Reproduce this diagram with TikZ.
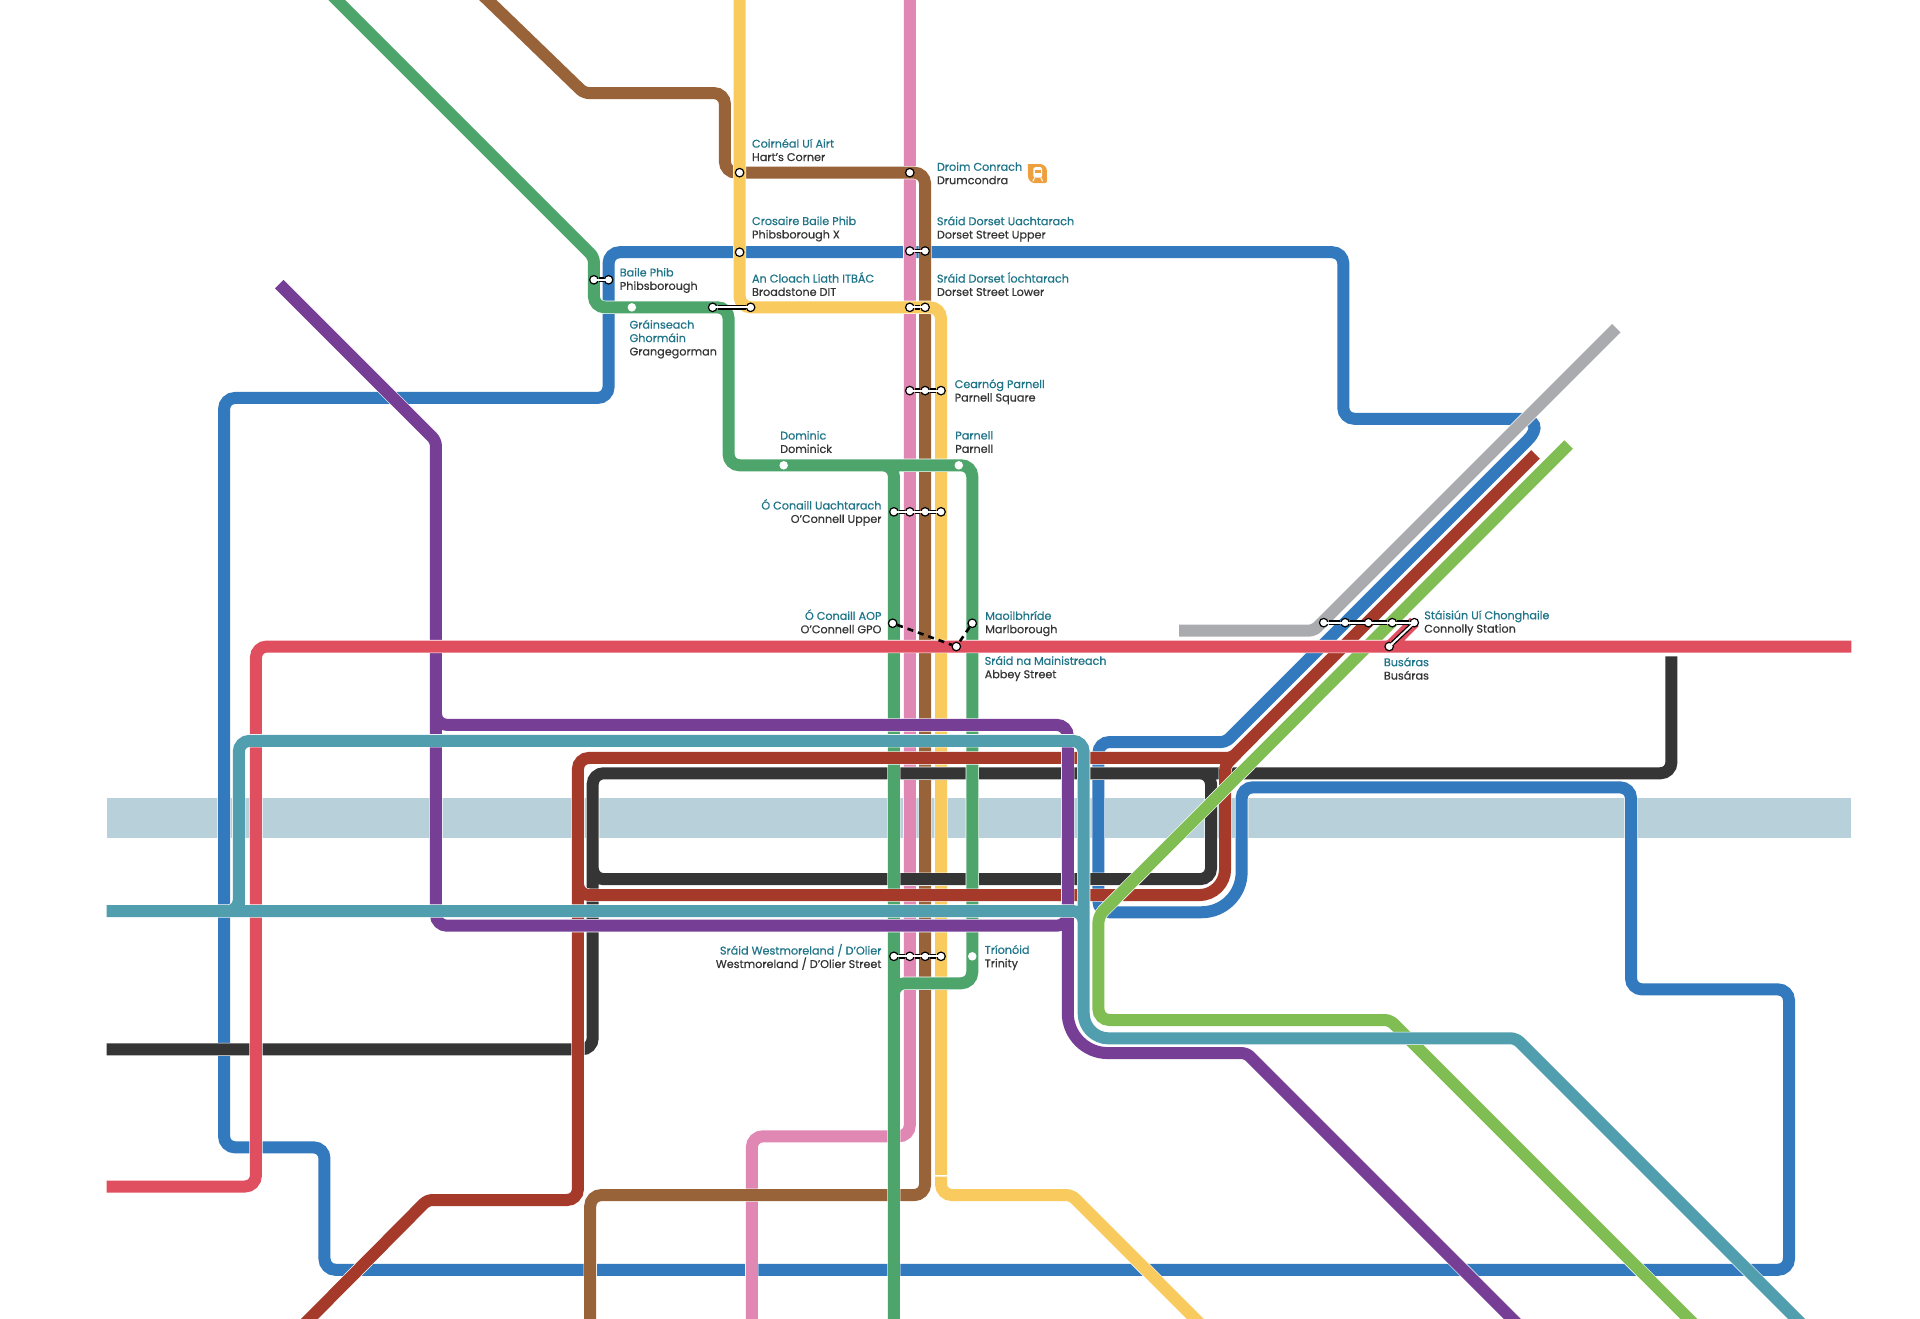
\documentclass[tikz,border=0pt]{standalone}
\usepackage{fontspec}
\setmainfont{Poppins}[FakeBold=0.6]
\usepackage{xcolor}
\definecolor{riverblue}{HTML}{B7D0D9}
\definecolor{lineblue}{HTML}{3279BD}
\definecolor{linegray}{HTML}{A9ABAE}
\definecolor{linepink}{HTML}{E087B3}
\definecolor{linebrown}{HTML}{996339}
\definecolor{lineyellow}{HTML}{F9CB5F}
\definecolor{linedark}{HTML}{353535}
\definecolor{linegreen}{HTML}{4EA56C}
\definecolor{linecrimson}{HTML}{A53A2B}
\definecolor{linelime}{HTML}{80BD53}
\definecolor{linepurple}{HTML}{763E95}
\definecolor{linered}{HTML}{E04F5F}
\definecolor{lineteal}{HTML}{519FAE}
\definecolor{irishteal}{HTML}{1E7488}
\definecolor{iconorange}{HTML}{EE9F3E}
\tikzset{
  tube/.style={white,line width=0.6pt,double=#1,double distance=12pt,rounded corners=11pt},
  halt/.style={circle,fill=white,inner sep=0pt,minimum size=8.5pt},
  stop/.style={circle,draw=black,line width=1.2pt,fill=white,inner sep=0pt,minimum size=8.5pt},
  linkout/.style={black,line width=4.6pt},
  linkin/.style={white,line width=2pt},
  walk/.style={black,line width=2.6pt,dash pattern=on 6pt off 5pt},
  lbl/.style={text=linedark,font=\fontsize{11.2pt}{13.4pt}\selectfont,inner sep=0pt},
  lblw/.style={lbl,anchor=west,align=left},
  lble/.style={lbl,anchor=east,align=right}
}
\newcommand{\ga}[1]{\textcolor{irishteal}{#1}}
\begin{document}
\begin{tikzpicture}[x=1.22449pt,y=-1.22449pt]
\useasboundingbox (0,0) rectangle (1568,1076.4);
% river
\fill [riverblue] (87,652) rectangle (1512,684.5);

% blue loop
\draw [tube=lineblue] (600,206) -- (497,206) -- (497,325) -- (183,325) -- (183,937) -- (265,937) -- (265,1037)
  -- (1461,1037) -- (1461,808) -- (1332,808) -- (1332,643) -- (1014,643) [rounded corners=40pt] -- (1014,745)
  [rounded corners=11pt] -- (897,745) -- (897,606) [rounded corners=5pt] -- (1001,606) [rounded corners=30pt] -- (1265,342)
  [rounded corners=11pt] -- (1097,342) -- (1097,206) -- cycle;
% gray line
\draw [tube=linegray,rounded corners=5pt] (963,515) -- (1073,515) -- (1320,268);
% pink line
\draw [tube=linepink] (743,-10) -- (743,928) -- (614,928) -- (614,1090);
% brown line
\draw [tube=linebrown] (388,-10) [rounded corners=5pt] -- (477,76) [rounded corners=11pt] -- (592,76) -- (592,141)
  -- (755.5,141) -- (755.5,976) -- (482,976) -- (482,1090);
% yellow line
\draw [tube=lineyellow] (604,-10) -- (604,251) -- (768.5,251) -- (768.5,959.5);
\draw [tube=lineyellow] (768.5,961) -- (768.5,976) [rounded corners=5pt] -- (875,976) -- (985,1086);
% dark line
\draw [tube=linedark] (1365,536) -- (1365,631.5) -- (484,631.5) -- (484,857) -- (87,857)
  (960,631.5) -- (989,631.5) -- (989,718) -- (484,718) -- (484,700);
% green line
\draw [tube=linegreen] (265,-10) [rounded corners=5pt] -- (485,210) [rounded corners=11pt] -- (485,251) -- (595,251) -- (595,380)
  -- (730,380) -- (730,1090)
  (700,380) -- (794,380) -- (794,803) -- (730,803) -- (730,830);
% crimson line
\draw [tube=linecrimson] (240,1090) [rounded corners=5pt] -- (349,980) [rounded corners=11pt] -- (472,980) -- (472,619)
  [rounded corners=5pt] -- (1006,619) -- (1254,371)
  (1035,590) -- (1000.5,625) [rounded corners=26pt] -- (1000.5,731) [rounded corners=11pt] -- (472,731) -- (472,700);
% lime line
\draw [tube=linelime] (1281,363) [rounded corners=7pt] -- (897,748) [rounded corners=11pt] -- (897,833)
  [rounded corners=5pt] -- (1135,833) -- (1390,1088);
% purple line
\draw [tube=linepurple] (228,232) [rounded corners=5pt] -- (356,360) [rounded corners=11pt] -- (356,756) -- (872,756) -- (872,730)
  (356,570) -- (356,592) -- (872,592) [rounded corners=40pt] -- (872,860) [rounded corners=5pt] -- (1018,860) -- (1248,1090);
% red line
\draw [tube=linered] (1512,528) -- (209,528) -- (209,969) -- (87,969)
  (1120,528) [rounded corners=3pt] -- (1135,528) -- (1155,508);
% teal line
\draw [tube=lineteal] (87,744) -- (885,744) -- (885,770)
  (195,700) -- (195,744) -- (175,744)
  (195,744) -- (195,605) -- (885,605) [rounded corners=25pt] -- (885,848) [rounded corners=5pt] -- (1238,848) -- (1480,1090);

% plain stations
\node [halt] (grange) at (516,251) {};
\node [halt] (dominick) at (640,380) {};
\node [halt] (parnell) at (783,380) {};
\node [halt] (trinity) at (794,781) {};
% ringed stations
\node [stop] (harts) at (604,141) {};
\node [stop] (drumcondra) at (743,141) {};
\node [stop] (phibsx) at (604,206) {};
\node [stop] (gpo) at (729,509) {};
\node [stop] (marlborough) at (794,509) {};
\node [stop] (abbey) at (781,528) {};
\draw [walk] (gpo) -- (abbey);
\draw [walk] (marlborough) -- (abbey);
% linked stations
\node [stop] (phibsa) at (485,228.5) {};
\node [stop] (phibsb) at (497,228.5) {};
\node [stop] (broada) at (582,251) {};
\node [stop] (broadb) at (613,251) {};
\node [stop] (dorsetua) at (743,205) {};
\node [stop] (dorsetub) at (755.5,205) {};
\node [stop] (dorsetla) at (743,251) {};
\node [stop] (dorsetlb) at (755.5,251) {};
\node [stop] (squarea) at (743,319) {};
\node [stop] (squareb) at (755.5,319) {};
\node [stop] (squarec) at (768.5,319) {};
\node [stop] (uppera) at (730,418) {};
\node [stop] (upperb) at (743,418) {};
\node [stop] (upperc) at (755.5,418) {};
\node [stop] (upperd) at (768.5,418) {};
\node [stop] (westa) at (730,781) {};
\node [stop] (westb) at (743,781) {};
\node [stop] (westc) at (755.5,781) {};
\node [stop] (westd) at (768.5,781) {};
\node [stop] (conna) at (1081,508.5) {};
\node [stop] (connb) at (1098.5,508.5) {};
\node [stop] (connc) at (1117.5,508.5) {};
\node [stop] (connd) at (1137,508.5) {};
\node [stop] (conne) at (1155,508.5) {};
\node [stop] (busaras) at (1134.5,528) {};
\foreach \from/\to in {phibsa/phibsb,broada/broadb,dorsetua/dorsetub,dorsetla/dorsetlb,squarea/squareb,squareb/squarec,
  uppera/upperb,upperb/upperc,upperc/upperd,westa/westb,westb/westc,westc/westd,
  conna/connb,connb/connc,connc/connd,connd/conne,conne/busaras}
{
  \draw [linkout] (\from) -- (\to);
  \draw [linkin] (\from.center) -- (\to.center);
}

% labels
\node [lblw] (hartslbl) at (614,122.5) {\ga{Coirnéal Uí Airt}\\Hart’s Corner};
\node [lblw] (drumlbl) at (765,141.5) {\ga{Droim Conrach}\\Drumcondra};
\node [lblw] (xlbl) at (614,187) {\ga{Crosaire Baile Phib}\\Phibsborough X};
\node [lblw] (dorsetulbl) at (765,187) {\ga{Sráid Dorset Uachtarach}\\Dorset Street Upper};
\node [lblw] (phibslbl) at (506,229) {\ga{Baile Phib}\\Phibsborough};
\node [lblw] (broadlbl) at (614,232) {\ga{An Cloach Liath ITBÁC}\\Broadstone DIT};
\node [lblw] (dorsetllbl) at (765,232) {\ga{Sráid Dorset Íochtarach}\\Dorset Street Lower};
\node [lblw] (grangelbl) at (514,277) {\ga{Gráinseach}\\\ga{Ghormáin}\\Grangegorman};
\node [lblw] (squarelbl) at (779.5,320) {\ga{Cearnóg Parnell}\\Parnell Square};
\node [lblw] (dominicklbl) at (637,361) {\ga{Dominic}\\Dominick};
\node [lblw] (parnelllbl) at (780,361) {\ga{Parnell}\\Parnell};
\node [lblw] (marllbl) at (804.5,509.3) {\ga{Maoilbhríde}\\Marlborough};
\node [lblw] (abbeylbl) at (804,546) {\ga{Sráid na Mainistreach}\\Abbey Street};
\node [lblw] (connlbl) at (1163,508.8) {\ga{Stáisiún Uí Chonghaile}\\Connolly Station};
\node [lblw] (buslbl) at (1130,546) {\ga{Busáras}\\Busáras};
\node [lblw] (trinitylbl) at (804,782) {\ga{Tríonóid}\\Trinity};
\node [lble] (upperlbl) at (720,418.5) {\ga{Ó Conaill Uachtarach}\\O’Connell Upper};
\node [lble] (gpolbl) at (720,507.5) {\ga{Ó Conaill AOP}\\O’Connell GPO};
\node [lble] (westlbl) at (720,781.5) {\ga{Sráid Westmoreland / D’Olier}\\Westmoreland / D’Olier Street};

% train icon
\fill [iconorange] (839.5,134) [rounded corners=7pt] -- (855,134) [rounded corners=2pt] -- (855,149.5)
  [rounded corners=7pt] -- (839.5,149.5) [sharp corners] -- cycle;
\fill [white,rounded corners=1.5pt] (844,136.5) rectangle (851,145);
\fill [iconorange] (845,138.5) rectangle (850,141);
\draw [white,line width=1pt] (845,145) -- (843.5,148) (850,145) -- (851.5,148);
\end{tikzpicture}
\end{document}
